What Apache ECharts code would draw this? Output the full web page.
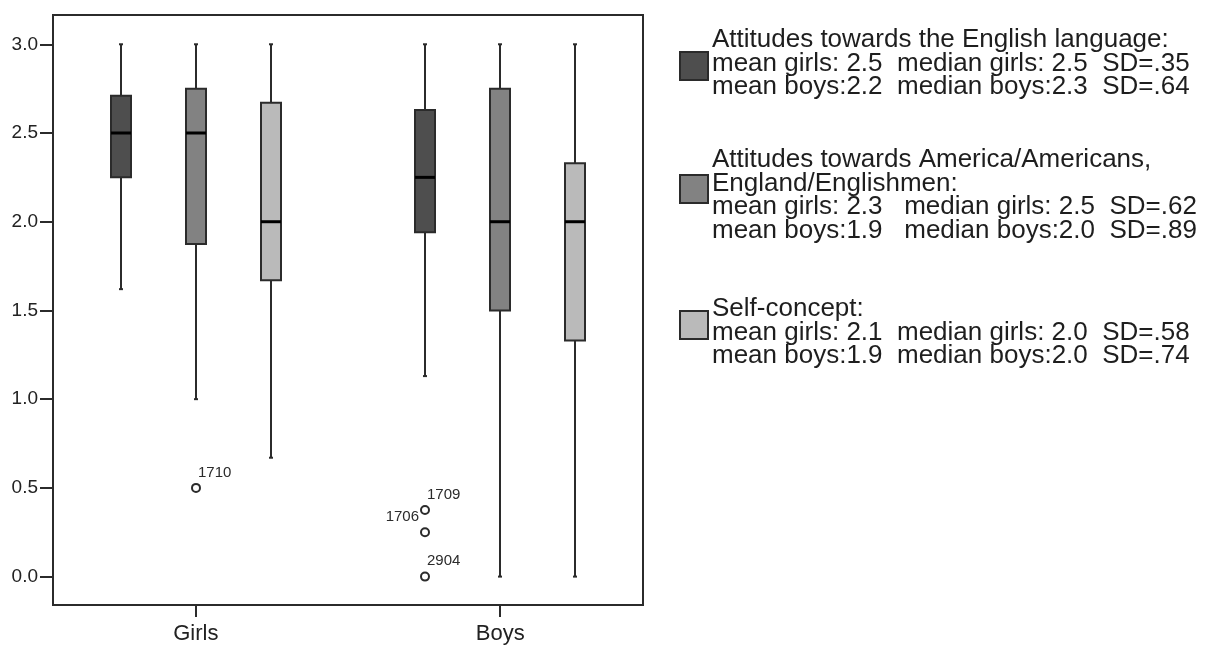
<!DOCTYPE html>
<html>
<head>
<meta charset="utf-8">
<script src="https://cdn.jsdelivr.net/npm/echarts@6/dist/echarts.min.js"></script>
<style>
  html, body { margin: 0; padding: 0; background: #fff; }
  #boxChart { width: 1219px; height: 651px; }
</style>
</head>
<body>
<div id="boxChart"></div>
<script>
// groups on the x axis
const categories = ['Girls', 'Boys'];
const yTicks = [0, 0.5, 1.0, 1.5, 2.0, 2.5, 3.0];

// [min, Q1, median, Q3, max] for Girls, Boys
const englishBox = [[1.62, 2.25, 2.5, 2.71, 3.0], [1.13, 1.94, 2.25, 2.63, 3.0]];
const americaBox = [[1.0, 1.875, 2.5, 2.75, 3.0], [0.0, 1.5, 2.0, 2.75, 3.0]];
const selfBox = [[0.67, 1.67, 2.0, 2.67, 3.0], [0.0, 1.33, 2.0, 2.33, 3.0]];

// outliers: group, which box, value, case id
const outlierGroups = ['Girls', 'Boys', 'Boys', 'Boys'];
const outlierBoxes = [1, 0, 0, 0];
const outlierValues = [0.5, 0.375, 0.25, 0.0];
const outlierIds = ['1710', '1709', '1706', '2904'];

const legendTexts = [
  'Attitudes towards the English language:\nmean girls: 2.5  median girls: 2.5  SD=.35\nmean boys:2.2  median boys:2.3  SD=.64',
  'Attitudes towards America/Americans,\nEngland/Englishmen:\nmean girls: 2.3   median girls: 2.5  SD=.62\nmean boys:1.9   median boys:2.0  SD=.89',
  'Self-concept:\nmean girls: 2.1  median girls: 2.0  SD=.58\nmean boys:1.9  median boys:2.0  SD=.74'
];

const boxes = [englishBox, americaBox, selfBox];
const fills = ['#4e4e4e', '#828282', '#bababa'];
const ink = '#2b2b2b';
const font = '"Liberation Sans", Arial, sans-serif';
const boxGapPx = 75;
const boxHalf = 10;

let chartDom = document.getElementById('boxChart');
let myChart = echarts.init(chartDom);

function renderBox(params, api) {
  const x = api.value(0);
  const off = (params.seriesIndex - 1) * boxGapPx;
  const pMin = api.coord([x, api.value(1)]);
  const pQ1 = api.coord([x, api.value(2)]);
  const pMed = api.coord([x, api.value(3)]);
  const pQ3 = api.coord([x, api.value(4)]);
  const pMax = api.coord([x, api.value(5)]);
  const cx = Math.round(pMin[0] + off);
  const line = { stroke: ink, lineWidth: 2 };
  return {
    type: 'group',
    children: [
      { type: 'line', shape: { x1: cx, y1: pMax[1], x2: cx, y2: pQ3[1] }, style: line },
      { type: 'line', shape: { x1: cx, y1: pQ1[1], x2: cx, y2: pMin[1] }, style: line },
      { type: 'line', shape: { x1: cx - 2, y1: pMax[1], x2: cx + 2, y2: pMax[1] }, style: line },
      { type: 'line', shape: { x1: cx - 2, y1: pMin[1], x2: cx + 2, y2: pMin[1] }, style: line },
      {
        type: 'rect',
        shape: { x: cx - boxHalf, y: pQ3[1], width: boxHalf * 2, height: pQ1[1] - pQ3[1] },
        style: { fill: fills[params.seriesIndex], stroke: ink, lineWidth: 2 }
      },
      {
        type: 'line',
        shape: { x1: cx - boxHalf, y1: pMed[1], x2: cx + boxHalf, y2: pMed[1] },
        style: { stroke: '#000', lineWidth: 3 }
      }
    ]
  };
}

function renderOutlier(params, api) {
  const i = params.dataIndex;
  const p = api.coord([api.value(0), api.value(1)]);
  const cx = Math.round(p[0] + (api.value(2) - 1) * boxGapPx);
  const cy = p[1];
  // push the label to the left when the previous point of the same box is close
  let left = false;
  if (i > 0 && outlierGroups[i - 1] === outlierGroups[i] && outlierBoxes[i - 1] === outlierBoxes[i]
      && Math.abs(outlierValues[i - 1] - outlierValues[i]) < 0.2) {
    left = !(i > 1 && outlierGroups[i - 2] === outlierGroups[i] && Math.abs(outlierValues[i - 2] - outlierValues[i]) < 0.2);
  }
  return {
    type: 'group',
    children: [
      { type: 'circle', shape: { cx: cx, cy: cy, r: 4 }, style: { fill: 'none', stroke: ink, lineWidth: 2 } },
      {
        type: 'text',
        x: left ? cx - 6 : cx + 2,
        y: cy - 8,
        style: {
          text: outlierIds[i], fill: ink, font: '15px ' + font,
          align: left ? 'right' : 'left', verticalAlign: 'bottom'
        }
      }
    ]
  };
}

const boxSeries = boxes.map(function (b, s) {
  return {
    name: 'box' + s,
    type: 'custom',
    renderItem: renderBox,
    encode: { x: 0, y: [1, 2, 3, 4, 5] },
    data: categories.map(function (c, i) { return [i + 1].concat(b[i]); })
  };
});

const outlierSeries = {
  type: 'custom',
  renderItem: renderOutlier,
  encode: { x: 0, y: 1 },
  data: outlierValues.map(function (v, i) {
    return [categories.indexOf(outlierGroups[i]) + 1, v, outlierBoxes[i]];
  })
};

// legend on the right side
const squareTops = [51, 174, 310];
const textTops = [27, 147, 296];
const legendGraphics = [];
legendTexts.forEach(function (t, i) {
  legendGraphics.push({
    type: 'rect',
    left: 679, top: squareTops[i],
    shape: { x: 0, y: 0, width: 28, height: 28 },
    style: { fill: fills[i], stroke: ink, lineWidth: 2 }
  });
  legendGraphics.push({
    type: 'text',
    left: 712, top: textTops[i],
    style: { text: t, fill: '#1e1e1e', font: '26px ' + font, lineHeight: 23.5 }
  });
});

let option = {
  backgroundColor: '#fff',
  animation: false,
  grid: {
    left: 53, top: 15, width: 590, height: 590,
    show: true, borderColor: ink, borderWidth: 2
  },
  xAxis: {
    type: 'value',
    min: 0.531,
    max: 2.469,
    splitLine: { show: false },
    axisLine: { show: true, onZero: false, lineStyle: { color: ink, width: 2 } },
    axisTick: { show: true, customValues: [1, 2], length: 12, lineStyle: { color: ink, width: 2 } },
    axisLabel: {
      customValues: [1, 2],
      formatter: function (v) { return categories[Math.round(v) - 1]; },
      color: '#222', fontSize: 22, fontFamily: font, margin: 18
    }
  },
  yAxis: {
    type: 'value',
    min: -0.16,
    max: 3.165,
    splitLine: { show: false },
    axisLine: { show: true, onZero: false, lineStyle: { color: ink, width: 2 } },
    axisTick: { show: true, customValues: yTicks, length: 13, lineStyle: { color: ink, width: 2 } },
    axisLabel: {
      customValues: yTicks,
      formatter: function (v) { return v.toFixed(1); },
      color: '#222', fontSize: 19, fontFamily: font, margin: 15
    }
  },
  graphic: legendGraphics,
  series: boxSeries.concat([outlierSeries])
};

option && myChart.setOption(option);
</script>
</body>
</html>
